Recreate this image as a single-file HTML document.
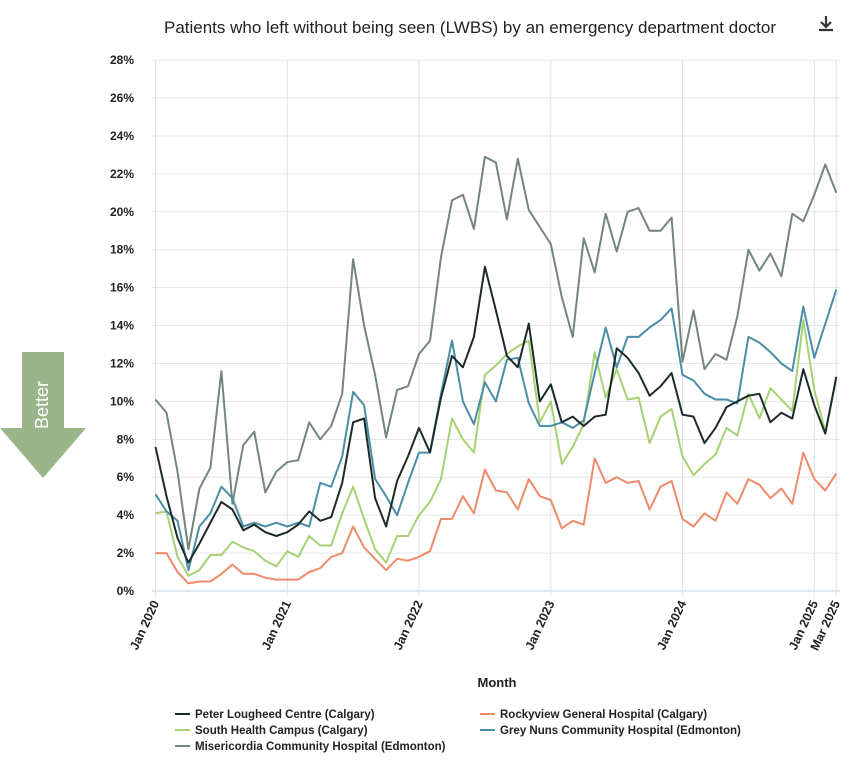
<!DOCTYPE html>
<html><head><meta charset="utf-8">
<style>
body{margin:0;background:#fff;font-family:"Liberation Sans",sans-serif;}
#wrap{position:relative;width:862px;height:762px;overflow:hidden;}
</style></head>
<body>
<div id="wrap">
<svg id="chart" width="862" height="762" xmlns="http://www.w3.org/2000/svg">
  <text x="470" y="33" text-anchor="middle" font-size="17" fill="#222">Patients who left without being seen (LWBS) by an emergency department doctor</text>
  <g>
    <rect x="819" y="14" width="14" height="20" fill="#fff"/>
    <path d="M826 16 v10 M821 22 l5 5 l5 -5 M819 30 h14" stroke="#333" stroke-width="2.2" fill="none"/>
  </g>
  <g>
    <polygon points="22,352 64,352 64,428 86,428 43,478 0,428 22,428" fill="#9ab58a"/>
    <text x="43" y="405" transform="rotate(-90 43 405)" text-anchor="middle" dominant-baseline="middle" fill="#fff" font-size="18">Better</text>
  </g>
  <g id="grid"></g>
  <g id="axes"></g>
  <g id="series"></g>
  <text x="497" y="687" text-anchor="middle" font-size="13" font-weight="bold" fill="#222">Month</text>
  <g id="legend"></g>
</svg>
</div>
<script>
const yTicks = [0,2,4,6,8,10,12,14,16,18,20,22,24,26,28];
const xTickLabels = ["Jan 2020","Jan 2021","Jan 2022","Jan 2023","Jan 2024","Jan 2025","Mar 2025"];
const xTickIndex = [0,12,24,36,48,60,62];
const seriesNames = ["Peter Lougheed Centre (Calgary)","South Health Campus (Calgary)","Misericordia Community Hospital (Edmonton)","Rockyview General Hospital (Calgary)","Grey Nuns Community Hospital (Edmonton)"];
const peterLougheed = [7.6,5.0,2.8,1.5,2.5,3.6,4.7,4.3,3.2,3.5,3.1,2.9, 3.1,3.5,4.2,3.7,3.9,5.7,8.9,9.1,4.9,3.4,5.8,7.1, 8.6,7.3,10.2,12.4,11.8,13.4,17.1,14.8,12.4,11.8,14.1,10.0, 10.9,8.9,9.2,8.7,9.2,9.3,12.8,12.3,11.5,10.3,10.8,11.5, 9.3,9.2,7.8,8.6,9.7,10.0,10.3,10.4,8.9,9.4,9.1,11.7, 9.8,8.3,11.3];
const southHealth = [4.1,4.2,1.8,0.8,1.1,1.9,1.9,2.6,2.3,2.1,1.6,1.3, 2.1,1.8,2.9,2.4,2.4,4.1,5.5,3.8,2.2,1.5,2.9,2.9, 4.0,4.7,5.9,9.1,8.0,7.3,11.4,11.9,12.5,12.9,13.2,8.9, 10.0,6.7,7.6,8.8,12.6,10.2,11.7,10.1,10.2,7.8,9.2,9.6, 7.1,6.1,6.7,7.2,8.6,8.2,10.4,9.1,10.7,10.1,9.5,14.3, 10.6,8.4,11.2];
const misericordia = [10.1,9.4,6.3,2.2,5.4,6.5,11.6,4.6,7.7,8.4,5.2,6.3, 6.8,6.9,8.9,8.0,8.7,10.4,17.5,14.0,11.4,8.1,10.6,10.8, 12.5,13.2,17.6,20.6,20.9,19.1,22.9,22.6,19.6,22.8,20.1,19.2, 18.3,15.5,13.4,18.6,16.8,19.9,17.9,20.0,20.2,19.0,19.0,19.7, 12.1,14.8,11.7,12.5,12.2,14.5,18.0,16.9,17.8,16.6,19.9,19.5, 20.9,22.5,21.0];
const rockyview = [2.0,2.0,1.0,0.4,0.5,0.5,0.9,1.4,0.9,0.9,0.7,0.6, 0.6,0.6,1.0,1.2,1.8,2.0,3.4,2.3,1.7,1.1,1.7,1.6, 1.8,2.1,3.8,3.8,5.0,4.1,6.4,5.3,5.2,4.3,5.9,5.0, 4.8,3.3,3.7,3.5,7.0,5.7,6.0,5.7,5.8,4.3,5.5,5.8, 3.8,3.4,4.1,3.7,5.2,4.6,5.9,5.6,4.9,5.4,4.6,7.3, 5.9,5.3,6.2];
const greyNuns = [5.1,4.2,3.7,1.1,3.4,4.1,5.5,4.9,3.4,3.6,3.4,3.6, 3.4,3.6,3.4,5.7,5.5,7.1,10.5,9.8,5.9,5.0,4.0,5.7, 7.3,7.3,10.4,13.2,10.0,8.8,11.0,10.0,12.2,12.3,9.9,8.7, 8.7,8.9,8.6,9.0,11.5,13.9,11.8,13.4,13.4,13.9,14.3,14.9, 11.4,11.1,10.4,10.1,10.1,9.9,13.4,13.1,12.6,12.0,11.6,15.0, 12.3,14.1,15.9];

const X0=155.5, DX=10.98, Y0=591, YPER=18.96;
const xs = i => X0 + i*DX;
const ys = v => Y0 - v*YPER;
const NS="http://www.w3.org/2000/svg";
function mk(tag, attrs, parent){const e=document.createElementNS(NS,tag);for(const k in attrs)e.setAttribute(k,attrs[k]);parent.appendChild(e);return e;}
const grid=document.getElementById('grid'), axes=document.getElementById('axes'), ser=document.getElementById('series'), leg=document.getElementById('legend');
const xEnd = xs(62)+4;
yTicks.forEach(t=>{
  const l=mk('line',{x1:X0-4,x2:xEnd,y1:ys(t),y2:ys(t),stroke:t===0?'#c5d0e0':'#e3e6ea','stroke-width':1},grid);
  
  
  const tx=mk('text',{x:134,y:ys(t)+4,'text-anchor':'end','font-size':12,'font-weight':'bold',fill:'#222'},axes);
  tx.textContent=t+'%';
  
  
});
xTickIndex.forEach((idx,k)=>{
  const x=xs(idx);
  const l=mk('line',{x1:x,x2:x,y1:ys(28),y2:Y0+6,stroke:'#dde3ec','stroke-width':1},grid);
  
  
  const tx=mk('text',{x:x+4,y:Y0+12,'text-anchor':'end','font-size':12.5,'font-weight':'bold',fill:'#222',transform:`rotate(-65 ${x+4} ${Y0+12})`},axes);
  tx.textContent=xTickLabels[k];
  
  
});
const allSeries=[peterLougheed,southHealth,misericordia,rockyview,greyNuns];
const colors=["#1c2a2a","#a6d273","#748679","#ee8b6b","#4a8ea8"];
const order=[2,3,1,4,0];
order.forEach(s=>{
  const d=allSeries[s].map((v,i)=>(i?'L':'M')+xs(i).toFixed(1)+' '+ys(v).toFixed(1)).join(' ');
  const p=mk('path',{d:d,fill:'none',stroke:colors[s],'stroke-width':2,'stroke-linejoin':'round'},ser);
  
  
});
const legPos=[[175,718],[175,734],[175,750],[480,718],[480,734]];
seriesNames.forEach((n,s)=>{
  const g=mk('g',{},leg);
  
  
  mk('line',{x1:legPos[s][0],x2:legPos[s][0]+15,y1:legPos[s][1]-4,y2:legPos[s][1]-4,stroke:colors[s],'stroke-width':2},g);
  const t=mk('text',{x:legPos[s][0]+20,y:legPos[s][1],'font-size':11.5,'font-weight':'bold',fill:'#222'},g);
  t.textContent=n;
});
</script>
</body></html>
